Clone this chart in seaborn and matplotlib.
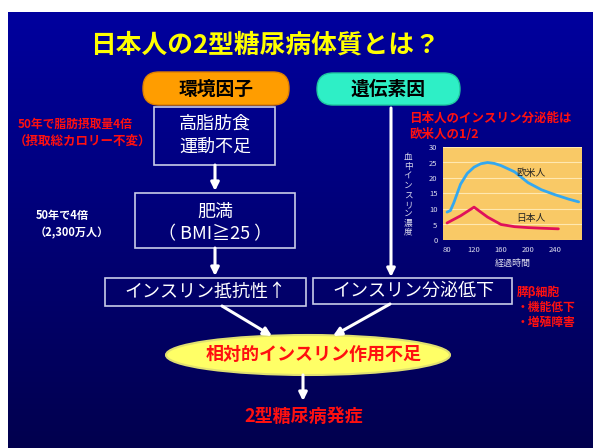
import numpy as np
import pandas as pd
import matplotlib
matplotlib.use("Agg")
import matplotlib.pyplot as plt
from matplotlib.patches import FancyBboxPatch, Rectangle, Ellipse
import seaborn as sns

# ---- data (inset chart) ----
west_time = [80, 85, 90, 100, 110, 120, 130, 140, 150, 160, 180, 200, 220, 240, 260, 275]
west_insulin = [9.0, 9.5, 12.0, 18.0, 21.5, 23.5, 24.6, 25.0, 24.7, 24.0, 22.0, 18.5, 16.2, 14.6, 13.2, 12.3]
jp_time = [80, 100, 120, 140, 160, 180, 200, 220, 245]
jp_insulin = [5.5, 7.8, 10.6, 7.4, 5.0, 4.3, 4.0, 3.8, 3.6]
group_names = ["欧米人", "日本人"]
y_ticks = [0, 5, 10, 15, 20, 25, 30]
x_ticks = [80, 120, 160, 200, 240]

# ---- texts ----
title = "日本人の2型糖尿病体質とは？"
env_label = "環境因子"
gene_label = "遺伝素因"
box1_lines = ["高脂肪食", "運動不足"]
box2_lines = ["肥満", "（ BMI≧25 ）"]
box3_text = "インスリン抵抗性↑"
box4_text = "インスリン分泌低下"
left_red = ["50年で脂肪摂取量4倍", "（摂取総カロリー不変）"]
left_white = ["50年で4倍", "（2,300万人）"]
right_red = ["日本人のインスリン分泌能は", "欧米人の1/2"]
beta_lines = ["膵β細胞", "・機能低下", "・増殖障害"]
ellipse_text = "相対的インスリン作用不足"
result_text = "2型糖尿病発症"
inset_xlabel = "経過時間"
inset_ylabel = "血中インスリン濃度"

sns.set_theme(style="white")
plt.rcParams['font.family'] = ['Noto Sans CJK JP', 'DejaVu Sans']

W, H = 593, 448
fig = plt.figure(figsize=(W / 100, H / 100), dpi=100, facecolor="white")
ax = fig.add_axes([0, 0, 1, 1])
ax.set_xlim(0, W)
ax.set_ylim(H, 0)
ax.axis("off")

# background gradient
top = np.array([0, 0, 158]) / 255
bot = np.array([2, 0, 78]) / 255
t = np.linspace(0, 1, 256)[:, None]
grad = (top[None, :] * (1 - t) + bot[None, :] * t)[:, None, :]
grad = np.repeat(grad, 2, axis=1)
ax.imshow(grad, extent=[8, W, H, 12], aspect="auto", zorder=0, interpolation="bilinear")

# title
ax.text(265, 45, title, color="#FFFF00", fontsize=18.5, fontweight="bold",
        ha="center", va="center", zorder=5)

# pills
ax.add_patch(FancyBboxPatch((143, 72), 146, 33, boxstyle="round,pad=0,rounding_size=16",
                            facecolor="#FF9D00", edgecolor="#E08000", lw=1, zorder=3))
ax.text(216, 89, env_label, fontsize=13.5, fontweight="bold", color="black",
        ha="center", va="center", zorder=4)
ax.add_patch(FancyBboxPatch((317, 73), 143, 32, boxstyle="round,pad=0,rounding_size=16",
                            facecolor="#2EEFC6", edgecolor="#20C8A0", lw=1, zorder=3))
ax.text(388, 89, gene_label, fontsize=13.5, fontweight="bold", color="black",
        ha="center", va="center", zorder=4)

edge = "#C8CCE8"
# box1
ax.add_patch(Rectangle((154, 107), 121, 58, facecolor="none", edgecolor=edge, lw=1.2, zorder=3))
ax.text(215, 124, box1_lines[0], fontsize=13, color="white", ha="center", va="center", zorder=4)
ax.text(215, 147, box1_lines[1], fontsize=13, color="white", ha="center", va="center", zorder=4)
# box2
ax.add_patch(Rectangle((135, 193), 160, 55, facecolor="none", edgecolor=edge, lw=1.2, zorder=3))
ax.text(215, 212, box2_lines[0], fontsize=13, color="white", ha="center", va="center", zorder=4)
ax.text(215, 234, box2_lines[1], fontsize=13, color="white", ha="center", va="center", zorder=4)
# box3
ax.add_patch(Rectangle((105, 278), 201, 28, facecolor="none", edgecolor=edge, lw=1.2, zorder=3))
ax.text(205, 292, box3_text, fontsize=13, color="white", ha="center", va="center", zorder=4)
# box4
ax.add_patch(Rectangle((313, 278), 199, 26, facecolor="none", edgecolor=edge, lw=1.2, zorder=3))
ax.text(413, 291, box4_text, fontsize=13, color="white", ha="center", va="center", zorder=4)

arrow = dict(arrowstyle="-|>", color="white", lw=2.2, mutation_scale=12, shrinkA=0, shrinkB=0)
ax.annotate("", xy=(215, 191), xytext=(215, 165), arrowprops=arrow, zorder=4)
ax.annotate("", xy=(215, 276), xytext=(215, 248), arrowprops=arrow, zorder=4)
ax.annotate("", xy=(391, 277), xytext=(391, 108), arrowprops=arrow, zorder=4)
ax.annotate("", xy=(272, 336), xytext=(222, 306), arrowprops=arrow, zorder=4)
ax.annotate("", xy=(333, 336), xytext=(390, 304), arrowprops=arrow, zorder=4)
ax.annotate("", xy=(303, 401), xytext=(303, 375), arrowprops=arrow, zorder=4)

# side texts
ax.text(75, 124, left_red[0], fontsize=8.5, color="#FF1010", fontweight="bold",
        ha="center", va="center", zorder=4)
ax.text(82, 141, left_red[1], fontsize=9, color="#FF1010", fontweight="bold",
        ha="center", va="center", zorder=4)
ax.text(62, 215, left_white[0], fontsize=8, color="white", fontweight="bold",
        ha="center", va="center", zorder=4)
ax.text(72, 233, left_white[1], fontsize=8, color="white", fontweight="bold",
        ha="center", va="center", zorder=4)
ax.text(409, 118, right_red[0], fontsize=9, color="#FF1010", fontweight="bold",
        ha="left", va="center", zorder=4)
ax.text(409, 134, right_red[1], fontsize=9, color="#FF1010", fontweight="bold",
        ha="left", va="center", zorder=4)
for i, s in enumerate(beta_lines):
    ax.text(517, 292 + 15 * i, s, fontsize=8.5, color="#FF1010", fontweight="bold",
            ha="left", va="center", zorder=4)

# ellipse
ax.add_patch(Ellipse((308, 355), 284, 40, facecolor="#FFFF66", edgecolor="#E0E070", lw=1.5, zorder=3))
ax.text(314, 354, ellipse_text, fontsize=13, color="#FF1010", fontweight="bold",
        ha="center", va="center", zorder=4)
ax.text(304, 417, result_text, fontsize=13, color="#FF1010", fontweight="bold",
        ha="center", va="center", zorder=4)

# ---- inset chart ----
axi = fig.add_axes([443 / W, 1 - 240 / H, 139 / W, 93 / H])
df = pd.DataFrame({
    "time": west_time + jp_time,
    "insulin": west_insulin + jp_insulin,
    "group": [group_names[0]] * len(west_time) + [group_names[1]] * len(jp_time),
})
sns.lineplot(data=df, x="time", y="insulin", hue="group",
             palette={group_names[0]: "#33A8F0", group_names[1]: "#E0105A"},
             linewidth=2, legend=False, ax=axi)
axi.set_facecolor("#F9C966")
axi.set_xlim(74, 280)
axi.set_ylim(0, 30)
axi.set_yticks(y_ticks)
axi.set_xticks(x_ticks)
axi.set_xticks([100, 140, 180, 220, 260], minor=True)
axi.grid(axis="y", color="#FFE8B0", lw=0.8)
axi.grid(axis="x", visible=False)
for sp in axi.spines.values():
    sp.set_visible(False)
axi.tick_params(axis="both", colors="#DDDDEE", labelsize=5.5, length=2, width=0.6, pad=2)
axi.tick_params(axis="x", which="minor", length=2, width=0.6, colors="#DDDDEE")
axi.set_xlabel(inset_xlabel, fontsize=6.5, color="#DDDDEE", labelpad=4)
axi.set_ylabel("")
axi.text(204, 21.6, group_names[0], fontsize=7, color="#222222", ha="center", va="center")
axi.text(204, 7.1, group_names[1], fontsize=7, color="#222222", ha="center", va="center")
ax.text(408, 195, "\n".join(inset_ylabel), fontsize=6.2, color="#DDDDEE",
        ha="center", va="center", linespacing=1.05, zorder=4)

fig.savefig("out.png", dpi=100, facecolor="white")
